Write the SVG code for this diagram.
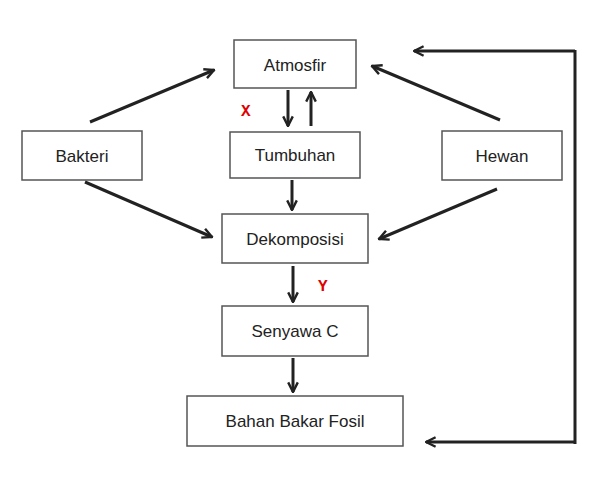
<svg xmlns="http://www.w3.org/2000/svg" width="608" height="501" viewBox="0 0 608 501">
<style>
.box{fill:#fff;stroke:#555;stroke-width:1.5}
.t{font-family:"Liberation Sans",Arial,sans-serif;font-size:17px;fill:#222;text-anchor:middle;dominant-baseline:central}
.c{stroke:#222;stroke-width:3;fill:none}
.r{font-family:"Liberation Mono",monospace;font-weight:bold;font-size:16px;fill:#e00000}
</style>
<defs>
<marker id="a" viewBox="0 0 10 10" refX="9" refY="5" markerWidth="4" markerHeight="4" orient="auto" markerUnits="strokeWidth">
<path d="M1,1 L9,5 L1,9" fill="none" stroke="#222" stroke-width="2"/>
</marker>
</defs>
<rect width="608" height="501" fill="#fff"/>
<g id="atmosfir"><rect class="box" x="234" y="40" width="122" height="48"/><text class="t" x="295" y="65">Atmosfir</text></g>
<g id="bakteri"><rect class="box" x="22" y="131" width="120" height="49"/><text class="t" x="82" y="156">Bakteri</text></g>
<g id="tumbuhan"><rect class="box" x="230" y="132" width="130" height="46"/><text class="t" x="295" y="155">Tumbuhan</text></g>
<g id="hewan"><rect class="box" x="442" y="131" width="120" height="49"/><text class="t" x="502" y="156">Hewan</text></g>
<g id="dekomposisi"><rect class="box" x="222" y="214" width="146" height="49"/><text class="t" x="295" y="239">Dekomposisi</text></g>
<g id="senyawa"><rect class="box" x="222" y="306" width="146" height="50"/><text class="t" x="295" y="331">Senyawa C</text></g>
<g id="fosil"><rect class="box" x="187" y="396" width="216" height="50"/><text class="t" x="295" y="421">Bahan Bakar Fosil</text></g>
<g id="connectors">
<line class="c" x1="90" y1="122" x2="214" y2="70" marker-end="url(#a)"/>
<line class="c" x1="500" y1="120" x2="372" y2="66" marker-end="url(#a)"/>
<line class="c" x1="85" y1="182" x2="212" y2="237" marker-end="url(#a)"/>
<line class="c" x1="497" y1="189" x2="379" y2="239" marker-end="url(#a)"/>
<line class="c" x1="288" y1="90" x2="288" y2="126" marker-end="url(#a)"/>
<line class="c" x1="311" y1="126" x2="311" y2="92" marker-end="url(#a)"/>
<line class="c" x1="292" y1="180" x2="292" y2="210" marker-end="url(#a)"/>
<line class="c" x1="293" y1="266" x2="293" y2="302" marker-end="url(#a)"/>
<line class="c" x1="293" y1="358" x2="293" y2="392" marker-end="url(#a)"/>
<polyline class="c" points="575,50 575,444"/>
<line class="c" x1="575" y1="51" x2="414" y2="51" marker-end="url(#a)"/>
<line class="c" x1="575" y1="442" x2="426" y2="442" marker-end="url(#a)"/>
</g>
<text class="r" x="241" y="116">X</text>
<text class="r" x="318" y="291">Y</text>
</svg>
